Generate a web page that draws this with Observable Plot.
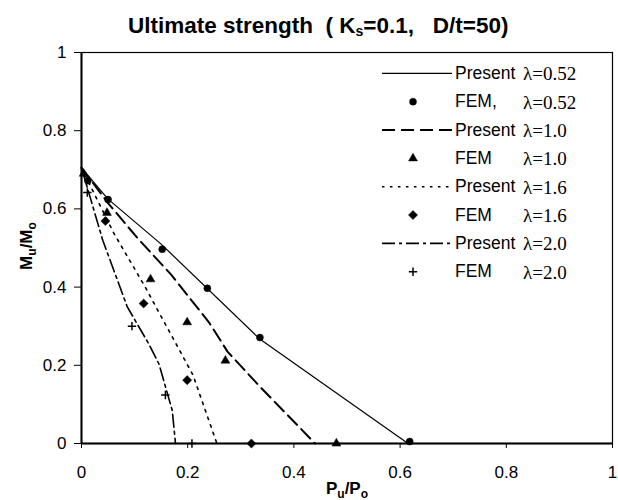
<!DOCTYPE html>
<html><head><meta charset="utf-8">
<script src="https://cdn.jsdelivr.net/npm/d3@7"></script>
<script src="https://cdn.jsdelivr.net/npm/@observablehq/plot@0.6"></script>
<style>body{margin:0;background:#fff;} #chart{width:618px;height:500px;}</style>
</head><body><div id="chart"></div>
<script>
// ---- data ----
const present052 = [[0,0.705],[0.05,0.625],[0.15,0.51],[0.335,0.268],[0.615,0]];
const fem052 = [[0.012,0.672],[0.05,0.624],[0.152,0.497],[0.237,0.397],[0.336,0.271],[0.618,0.005]];
const present10 = [[0,0.705],[0.05,0.615],[0.105,0.526],[0.168,0.433],[0.24,0.31],[0.275,0.235],[0.337,0.144],[0.44,0]];
const fem10 = [[0.004,0.69],[0.048,0.59],[0.13,0.42],[0.199,0.31],[0.271,0.212],[0.48,0]];
const present16 = [[0,0.705],[0.06,0.54],[0.12,0.40],[0.18,0.25],[0.21,0.175],[0.255,0]];
const fem16 = [[0.045,0.569],[0.117,0.358],[0.199,0.162],[0.32,0]];
const present20 = [[0,0.705],[0.04,0.52],[0.086,0.35],[0.127,0.254],[0.146,0.203],[0.171,0.084],[0.177,0]];
const fem20 = [[0.011,0.642],[0.095,0.30],[0.158,0.124],[0.208,0]];
const xTicks = [0,0.2,0.4,0.6,0.8,1];
const yTicks = [0,0.2,0.4,0.6,0.8,1];
const legendNames = ["Present","FEM,","Present","FEM","Present","FEM","Present","FEM"];
const legendLambdas = ["λ=0.52","λ=0.52","λ=1.0","λ=1.0","λ=1.6","λ=1.6","λ=2.0","λ=2.0"];

// ---- styles ----
const lineStyles = [
  {strokeWidth:1.2, strokeDasharray:null},
  {strokeWidth:2, strokeDasharray:"13,6"},
  {strokeWidth:1.6, strokeDasharray:"2.5,5.5"},
  {strokeWidth:1.6, strokeDasharray:"13,4,3,4"}
];
const symbols = ["circle","triangle","diamond2","plus"];
const symR = [3.5, 3.3, 4.1, 2.8];
const presents = [present052, present10, present16, present20];
const fems = [fem052, fem10, fem16, fem20];
const fmt = d => String(+d.toFixed(1));
const FX = d => d[0], FY = d => d[1];
const SANS = "'Liberation Sans', Arial, sans-serif";

const marks = [];
presents.forEach((s,i) => marks.push(Plot.line(s, {x:FX, y:FY, stroke:"black", strokeWidth:lineStyles[i].strokeWidth, strokeDasharray:lineStyles[i].strokeDasharray})));
fems.forEach((s,i) => {
  const isPlus = symbols[i] === "plus";
  marks.push(Plot.dot(s, {x:FX, y:FY, symbol:symbols[i], r:symR[i], fill:isPlus?"none":"black", stroke:"black", strokeWidth:isPlus?1.5:0.5}));
});

const svgEl = Plot.plot({
  width:618, height:500,
  marginLeft:81, marginRight:6, marginTop:52, marginBottom:57,
  style:{fontFamily:SANS, fontSize:"17px", color:"black", background:"white"},
  x:{domain:[0,1]},
  y:{domain:[0,1]},
  marks:[
    Plot.axisX({ticks:xTicks, tickFormat:fmt, tickSize:5, tickPadding:17, label:null, fontSize:17}),
    Plot.axisY({ticks:yTicks, tickFormat:fmt, tickSize:7, tickPadding:8, label:null, fontSize:17}),
    ...marks,
    Plot.frame({stroke:"black", strokeWidth:1.2}),
    Plot.ruleY([0], {stroke:"black", strokeWidth:2}),
    Plot.ruleX([0], {stroke:"black", strokeWidth:2})
  ]
});
document.getElementById("chart").appendChild(svgEl);

const svg = d3.select(svgEl);
// Title
const t = svg.append("text").attr("x",128).attr("y",33).attr("text-anchor","start")
  .attr("font-family",SANS).attr("font-size",22.5).attr("font-weight","bold")
  .style("white-space","pre");
t.append("tspan").text("Ultimate strength  ( K");
t.append("tspan").attr("font-size",14).attr("dy",3).text("s");
t.append("tspan").attr("dy",-3).text("=0.1,   D/t=50)");

// Axis labels
function subLabel(g, a, b, c, d) {
  g.append("tspan").text(a);
  g.append("tspan").attr("font-size",12).attr("dy",4).text(b);
  g.append("tspan").attr("dy",-4).text(c);
  g.append("tspan").attr("font-size",12).attr("dy",4).text(d);
}
const xl = svg.append("text").attr("x",347).attr("y",494).attr("text-anchor","middle")
  .attr("font-family",SANS).attr("font-size",17).attr("font-weight","bold");
subLabel(xl,"P","u","/P","o");
const yl = svg.append("text").attr("transform","translate(32,246) rotate(-90)").attr("text-anchor","middle")
  .attr("font-family",SANS).attr("font-size",17).attr("font-weight","bold");
subLabel(yl,"M","u","/M","o");

// Legend
const lg = svg.append("g").attr("text-anchor","start");
const sym = {circle:d3.symbolCircle, triangle:d3.symbolTriangle, diamond2:d3.symbolDiamond2, plus:d3.symbolPlus};
legendNames.forEach((name,i) => {
  const cy = 73.3 + 28.35*i;
  const k = Math.floor(i/2);
  if (i % 2 === 0) {
    const ls = lineStyles[k];
    lg.append("line").attr("x1",382).attr("x2",452).attr("y1",cy).attr("y2",cy)
      .attr("stroke","black").attr("stroke-width",ls.strokeWidth).attr("stroke-dasharray",ls.strokeDasharray);
  } else {
    const r = symR[k], isPlus = symbols[k]==="plus";
    lg.append("path").attr("transform",`translate(413,${cy})`)
      .attr("d", d3.symbol(sym[symbols[k]], Math.PI*r*r)())
      .attr("fill", isPlus?"none":"black").attr("stroke","black").attr("stroke-width",isPlus?1.5:0.5);
  }
  lg.append("text").attr("x",455).attr("y",cy+5.5).attr("text-anchor","start").attr("font-family",SANS)
    .attr("font-size",17.5).text(name);
  lg.append("text").attr("x",523).attr("y",cy+7).attr("text-anchor","start").attr("font-family","'Liberation Serif', 'Times New Roman', serif")
    .attr("font-size",19).text(legendLambdas[i]);
});
</script></body></html>
